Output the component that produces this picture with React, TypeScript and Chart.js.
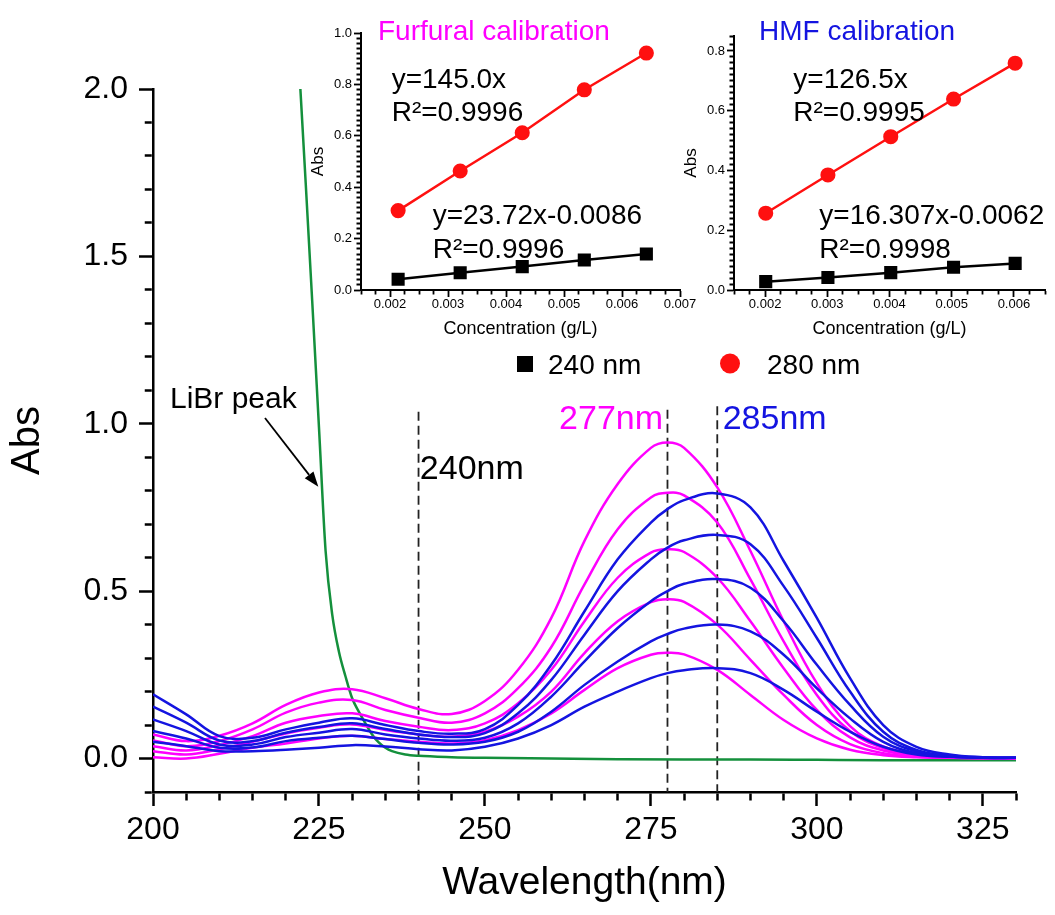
import React, { useEffect, useRef } from 'react';
import { Chart, registerables } from 'chart.js';

Chart.register(...registerables);

const FONT = "'Liberation Sans', Arial, Helvetica, sans-serif";
const MAGENTA = '#ff00ff';
const BLUE = '#1414e0';
const GREEN = '#14903c';
const RED = '#ff1010';

// ---------- main spectra (Abs vs wavelength, nm) ----------
const wavelengths = [200, 205, 210, 215, 220, 225, 230, 235, 240, 245, 250, 255, 260, 265, 270, 275, 277.5, 280, 285, 290, 295, 300, 305, 310, 315, 320, 325, 330];

const furfural1 = [0.072, 0.052, 0.068, 0.105, 0.160, 0.197, 0.207, 0.180, 0.148, 0.133, 0.172, 0.265, 0.42, 0.65, 0.82, 0.928, 0.944, 0.928, 0.81, 0.62, 0.41, 0.225, 0.097, 0.036, 0.013, 0.005, 0.002, 0.001];
const furfural2 = [0.054, 0.037, 0.052, 0.087, 0.137, 0.167, 0.175, 0.145, 0.122, 0.107, 0.135, 0.21, 0.333, 0.52, 0.685, 0.78, 0.794, 0.786, 0.705, 0.535, 0.35, 0.19, 0.082, 0.031, 0.011, 0.004, 0.002, 0.001];
const furfural3 = [0.037, 0.024, 0.040, 0.067, 0.107, 0.127, 0.135, 0.112, 0.095, 0.085, 0.105, 0.165, 0.265, 0.41, 0.54, 0.615, 0.625, 0.617, 0.54, 0.41, 0.27, 0.145, 0.063, 0.024, 0.009, 0.004, 0.002, 0.001];
const furfural4 = [0.022, 0.012, 0.028, 0.050, 0.075, 0.092, 0.102, 0.085, 0.072, 0.065, 0.080, 0.125, 0.20, 0.315, 0.41, 0.467, 0.476, 0.468, 0.40, 0.295, 0.19, 0.10, 0.043, 0.016, 0.006, 0.003, 0.001, 0.001];
const furfural5 = [0.004, 0.000, 0.014, 0.032, 0.045, 0.060, 0.068, 0.058, 0.050, 0.045, 0.055, 0.085, 0.135, 0.205, 0.27, 0.31, 0.316, 0.311, 0.265, 0.19, 0.115, 0.06, 0.026, 0.010, 0.004, 0.002, 0.001, 0.001];

const hmf1 = [0.192, 0.132, 0.067, 0.062, 0.087, 0.107, 0.120, 0.100, 0.082, 0.074, 0.088, 0.16, 0.28, 0.44, 0.595, 0.705, 0.745, 0.772, 0.792, 0.75, 0.59, 0.42, 0.24, 0.10, 0.035, 0.012, 0.004, 0.002];
const hmf2 = [0.155, 0.107, 0.054, 0.052, 0.077, 0.094, 0.105, 0.088, 0.072, 0.064, 0.076, 0.135, 0.235, 0.37, 0.50, 0.595, 0.63, 0.652, 0.668, 0.64, 0.515, 0.36, 0.20, 0.08, 0.026, 0.009, 0.003, 0.002];
const hmf3 = [0.117, 0.082, 0.042, 0.042, 0.064, 0.077, 0.088, 0.072, 0.060, 0.053, 0.062, 0.105, 0.185, 0.29, 0.39, 0.47, 0.50, 0.522, 0.536, 0.51, 0.41, 0.28, 0.16, 0.065, 0.021, 0.007, 0.003, 0.002];
const hmf4 = [0.082, 0.060, 0.032, 0.033, 0.052, 0.062, 0.068, 0.058, 0.047, 0.042, 0.050, 0.080, 0.14, 0.22, 0.29, 0.35, 0.372, 0.388, 0.40, 0.38, 0.31, 0.21, 0.12, 0.05, 0.016, 0.006, 0.002, 0.002];
const hmf5 = [0.050, 0.037, 0.022, 0.022, 0.026, 0.032, 0.040, 0.036, 0.028, 0.024, 0.035, 0.060, 0.10, 0.155, 0.20, 0.24, 0.255, 0.264, 0.27, 0.255, 0.205, 0.14, 0.08, 0.035, 0.012, 0.005, 0.002, 0.002];

const librWavelengths = [222.2, 223, 224, 225, 226, 227, 228, 229, 230, 231, 232, 233, 234, 235, 236, 238, 240, 245, 250, 260, 270, 280, 290, 300, 310, 320, 330];
const librAbs = [2.0, 1.72, 1.36, 0.99, 0.62, 0.43, 0.32, 0.245, 0.18, 0.14, 0.105, 0.072, 0.048, 0.032, 0.022, 0.012, 0.008, 0.004, 0.002, 0.0, -0.002, -0.003, -0.003, -0.004, -0.005, -0.005, -0.005];

const markerWavelengths = [240, 277.5, 285];
const markerTopAbs = [1.036, 1.042, 1.052];

// ---------- calibration insets ----------
const furfuralConc = [0.00214, 0.00321, 0.00428, 0.00535, 0.00642];
const furfural240nm = [0.042, 0.067, 0.091, 0.117, 0.140];
const furfural280nm = [0.309, 0.463, 0.612, 0.779, 0.922];

const hmfConc = [0.00201, 0.00301, 0.00402, 0.00503, 0.00602];
const hmf240nm = [0.028, 0.042, 0.058, 0.076, 0.089];
const hmf280nm = [0.257, 0.385, 0.513, 0.639, 0.759];

const isMult = (v: number, m: number) => Math.abs(v / m - Math.round(v / m)) < 1e-6;
const pts = (xs: number[], ys: number[]) => xs.map((x, i) => ({ x, y: ys[i] }));

type TextItem = { text: string; x: number; y: number; size: number; color: string; align?: CanvasTextAlign };

function drawText(ctx: CanvasRenderingContext2D, t: TextItem, x: number, y: number) {
  ctx.save();
  ctx.font = `${t.size}px ${FONT}`;
  ctx.fillStyle = t.color;
  ctx.textAlign = t.align || 'left';
  ctx.textBaseline = 'alphabetic';
  ctx.fillText(t.text, x, y);
  ctx.restore();
}

// annotations of the main plot, in data coordinates (wavelength, Abs)
const mainAnnotations: TextItem[] = [
  { text: '240nm', x: 240.2, y: 0.835, size: 34, color: '#000', align: 'left' },
  { text: '277nm', x: 276.83, y: 0.984, size: 34, color: MAGENTA, align: 'right' },
  { text: '285nm', x: 285.82, y: 0.984, size: 34, color: BLUE, align: 'left' },
  { text: 'LiBr peak', x: 202.56, y: 1.047, size: 30, color: '#000', align: 'left' },
];
const arrowFrom = { x: 216.87, y: 1.017 };
const arrowTo = { x: 224.9, y: 0.812 };

// legend texts (page pixels)
const legendTexts: TextItem[] = [
  { text: '240 nm', x: 548, y: 374, size: 28, color: '#000' },
  { text: '280 nm', x: 767, y: 374, size: 28, color: '#000' },
];

const furfuralTexts: TextItem[] = [
  { text: 'Furfural calibration', x: 378, y: 39.5, size: 28, color: MAGENTA },
  { text: 'y=145.0x', x: 391.7, y: 87.5, size: 28, color: '#000' },
  { text: 'R²=0.9996', x: 391.7, y: 121, size: 28, color: '#000' },
  { text: 'y=23.72x-0.0086', x: 432.7, y: 224, size: 28, color: '#000' },
  { text: 'R²=0.9996', x: 432.7, y: 258, size: 28, color: '#000' },
];
const hmfTexts: TextItem[] = [
  { text: 'HMF calibration', x: 759, y: 39.5, size: 28, color: BLUE },
  { text: 'y=126.5x', x: 793.3, y: 87.5, size: 28, color: '#000' },
  { text: 'R²=0.9995', x: 793.3, y: 121, size: 28, color: '#000' },
  { text: 'y=16.307x-0.0062', x: 819.3, y: 224, size: 28, color: '#000' },
  { text: 'R²=0.9998', x: 819.3, y: 258, size: 28, color: '#000' },
];

const mainPlugin = {
  id: 'mainAnnotations',
  afterDraw(chart: any) {
    const ctx: CanvasRenderingContext2D = chart.ctx;
    const xs = chart.scales.x;
    const ys = chart.scales.y;
    mainAnnotations.forEach((t) => drawText(ctx, t, xs.getPixelForValue(t.x), ys.getPixelForValue(t.y)));
    // arrow
    const x1 = xs.getPixelForValue(arrowFrom.x), y1 = ys.getPixelForValue(arrowFrom.y);
    const x2 = xs.getPixelForValue(arrowTo.x), y2 = ys.getPixelForValue(arrowTo.y);
    const ang = Math.atan2(y2 - y1, x2 - x1);
    const head = 15, hw = 5.5;
    const bx = x2 - head * Math.cos(ang), by = y2 - head * Math.sin(ang);
    ctx.save();
    ctx.strokeStyle = '#000';
    ctx.fillStyle = '#000';
    ctx.lineWidth = 1.8;
    ctx.beginPath();
    ctx.moveTo(x1, y1);
    ctx.lineTo(bx, by);
    ctx.stroke();
    ctx.beginPath();
    ctx.moveTo(x2, y2);
    ctx.lineTo(bx + hw * Math.sin(ang), by - hw * Math.cos(ang));
    ctx.lineTo(bx - hw * Math.sin(ang), by + hw * Math.cos(ang));
    ctx.closePath();
    ctx.fill();
    // legend symbols
    ctx.fillStyle = '#000';
    ctx.fillRect(517, 356, 16, 16);
    ctx.fillStyle = RED;
    ctx.beginPath();
    ctx.arc(730, 363.5, 10, 0, Math.PI * 2);
    ctx.fill();
    ctx.restore();
    legendTexts.forEach((t) => drawText(ctx, t, t.x, t.y));
  },
};

function makeTextPlugin(items: TextItem[], offsetX: number, offsetY: number) {
  return {
    id: 'pageTexts',
    afterDraw(chart: any) {
      items.forEach((t) => drawText(chart.ctx, t, t.x - offsetX, t.y - offsetY));
    },
  };
}

function mainConfig(): any {
  const spectra = [
    { d: hmf1, c: BLUE }, { d: hmf2, c: BLUE }, { d: hmf3, c: BLUE }, { d: hmf4, c: BLUE }, { d: hmf5, c: BLUE },
    { d: furfural1, c: MAGENTA }, { d: furfural2, c: MAGENTA }, { d: furfural3, c: MAGENTA }, { d: furfural4, c: MAGENTA }, { d: furfural5, c: MAGENTA },
  ];
  const datasets: any[] = spectra.map((s) => ({
    data: pts(wavelengths, s.d),
    borderColor: s.c,
    borderWidth: 2.5,
    pointRadius: 0,
    fill: false,
    tension: 0.4,
  }));
  datasets.push({
    data: pts(librWavelengths, librAbs),
    borderColor: GREEN,
    borderWidth: 2.5,
    pointRadius: 0,
    fill: false,
    cubicInterpolationMode: 'monotone',
  });
  markerWavelengths.forEach((w, i) => {
    datasets.push({
      data: [{ x: w, y: markerTopAbs[i] }, { x: w, y: -0.1 }],
      borderColor: '#222',
      borderWidth: 1.8,
      borderDash: [9, 5],
      pointRadius: 0,
      fill: false,
    });
  });
  return {
    type: 'line',
    data: { datasets },
    plugins: [mainPlugin],
    options: {
      responsive: false,
      animation: false,
      devicePixelRatio: 1,
      layout: { padding: { left: 0, top: 89, right: 39, bottom: 0 } },
      plugins: { legend: { display: false }, tooltip: { enabled: false } },
      scales: {
        x: {
          type: 'linear',
          min: 200,
          max: 330,
          afterFit: (s: any) => { s.height = 123; },
          border: { display: true, color: '#000', width: 2.5 },
          grid: {
            drawOnChartArea: false,
            drawTicks: true,
            tickLength: 14,
            color: '#000',
            tickColor: '#000',
            tickWidth: 2.5,
            tickBorderDash: (c: any) => (isMult(c.tick.value, 25) ? [] : [7, 100]),
          },
          ticks: {
            stepSize: 5,
            autoSkip: false,
            maxRotation: 0,
            minRotation: 0,
            color: '#000',
            padding: 5,
            font: { family: FONT, size: 32 },
            callback: (v: number) => (isMult(v, 25) ? String(Math.round(v)) : ''),
          },
          title: {
            display: true,
            text: 'Wavelength(nm)',
            color: '#000',
            font: { family: FONT, size: 39 },
            padding: { top: 0, bottom: 8 },
          },
        },
        y: {
          type: 'linear',
          min: -0.1,
          max: 2.0,
          afterFit: (s: any) => { s.width = 153; },
          border: { display: true, color: '#000', width: 2.5 },
          grid: {
            drawOnChartArea: false,
            drawTicks: true,
            tickLength: 14,
            color: '#000',
            tickColor: '#000',
            tickWidth: 2.5,
            tickBorderDash: (c: any) => (isMult(c.tick.value, 0.5) ? [] : [0, 5.75, 7, 100]),
          },
          ticks: {
            stepSize: 0.1,
            autoSkip: false,
            color: '#000',
            padding: 11,
            font: { family: FONT, size: 32 },
            callback: (v: number) => (isMult(v, 0.5) ? v.toFixed(1) : ''),
          },
          title: {
            display: true,
            text: 'Abs',
            color: '#000',
            font: { family: FONT, size: 40 },
            padding: { top: 4, bottom: 0 },
          },
        },
      },
    },
  };
}

type InsetParams = {
  conc: number[];
  a240: number[];
  a280: number[];
  xMax: number;
  yMax: number;
  yWidth: number;
  padTop: number;
  padRight: number;
  absPad: number;
  texts: TextItem[];
  left: number;
};

function insetConfig(p: InsetParams): any {
  return {
    type: 'line',
    data: {
      datasets: [
        {
          label: '240 nm',
          data: pts(p.conc, p.a240),
          borderColor: '#000',
          backgroundColor: '#000',
          pointBackgroundColor: '#000',
          pointBorderColor: '#000',
          pointStyle: 'rect',
          pointRadius: 7.5,
          borderWidth: 2.5,
          tension: 0,
          fill: false,
          clip: false,
        },
        {
          label: '280 nm',
          data: pts(p.conc, p.a280),
          borderColor: RED,
          backgroundColor: RED,
          pointBackgroundColor: RED,
          pointBorderColor: RED,
          pointStyle: 'circle',
          pointRadius: 6.3,
          borderWidth: 2.5,
          tension: 0,
          fill: false,
          clip: false,
        },
      ],
    },
    plugins: [makeTextPlugin(p.texts, p.left, 0)],
    options: {
      responsive: false,
      animation: false,
      devicePixelRatio: 1,
      layout: { padding: { left: 0, top: p.padTop, right: p.padRight, bottom: 0 } },
      plugins: { legend: { display: false }, tooltip: { enabled: false } },
      scales: {
        x: {
          type: 'linear',
          min: 0.0015,
          max: p.xMax,
          afterFit: (s: any) => { s.height = 55; },
          border: { display: true, color: '#000', width: 2 },
          grid: {
            drawOnChartArea: false,
            drawTicks: true,
            tickLength: 7,
            color: '#000',
            tickColor: '#000',
            tickWidth: 1.8,
            tickBorderDash: (c: any) => (isMult(c.tick.value, 0.001) ? [] : [3.5, 100]),
          },
          ticks: {
            stepSize: 0.00025,
            autoSkip: false,
            maxRotation: 0,
            minRotation: 0,
            color: '#000',
            padding: 0,
            font: { family: FONT, size: 13 },
            callback: (v: number) => (isMult(v, 0.001) ? v.toFixed(3) : ''),
          },
          title: {
            display: true,
            text: 'Concentration (g/L)',
            color: '#000',
            font: { family: FONT, size: 18 },
            padding: { top: 0, bottom: 5.5 },
          },
        },
        y: {
          type: 'linear',
          min: 0,
          max: p.yMax,
          afterFit: (s: any) => { s.width = p.yWidth; },
          border: { display: true, color: '#000', width: 2 },
          grid: {
            drawOnChartArea: false,
            drawTicks: true,
            tickLength: 7,
            color: '#000',
            tickColor: '#000',
            tickWidth: 1.8,
            tickBorderDash: (c: any) => (isMult(c.tick.value, 0.2) ? [] : [0, 2.5, 3.5, 100]),
          },
          ticks: {
            stepSize: 0.02,
            autoSkip: false,
            color: '#000',
            padding: 2,
            font: { family: FONT, size: 13 },
            callback: (v: number) => (isMult(v, 0.2) ? v.toFixed(1) : ''),
          },
          title: {
            display: true,
            text: 'Abs',
            color: '#000',
            font: { family: FONT, size: 17 },
            padding: { top: p.absPad, bottom: 0 },
          },
        },
      },
    },
  };
}

const canvasStyle = (left: number, top: number, w: number, h: number): React.CSSProperties => ({
  position: 'absolute',
  left,
  top,
  width: w,
  height: h,
});

export default function App() {
  const mainRef = useRef<HTMLCanvasElement>(null);
  const furRef = useRef<HTMLCanvasElement>(null);
  const hmfRef = useRef<HTMLCanvasElement>(null);

  useEffect(() => {
    const charts: Chart[] = [];
    if (mainRef.current) charts.push(new Chart(mainRef.current, mainConfig()));
    if (furRef.current)
      charts.push(
        new Chart(
          furRef.current,
          insetConfig({
            conc: furfuralConc,
            a240: furfural240nm,
            a280: furfural280nm,
            xMax: 0.007,
            yMax: 1.0,
            yWidth: 71,
            padTop: 33,
            padRight: 22,
            absPad: 18,
            texts: furfuralTexts,
            left: 290,
          })
        )
      );
    if (hmfRef.current)
      charts.push(
        new Chart(
          hmfRef.current,
          insetConfig({
            conc: hmfConc,
            a240: hmf240nm,
            a280: hmf280nm,
            xMax: 0.0065,
            yMax: 0.85,
            yWidth: 69,
            padTop: 36,
            padRight: 1.4,
            absPad: 16.5,
            texts: hmfTexts,
            left: 665,
          })
        )
      );
    return () => charts.forEach((c) => c.destroy());
  }, []);

  return (
    <div style={{ position: 'absolute', left: 0, top: 0, width: 1055, height: 915, background: '#fff' }}>
      <canvas ref={mainRef} width={1055} height={915} style={canvasStyle(0, 0, 1055, 915)} />
      <canvas ref={furRef} width={412} height={345} style={canvasStyle(290, 0, 412, 345)} />
      <canvas ref={hmfRef} width={390} height={345} style={canvasStyle(665, 0, 390, 345)} />
    </div>
  );
}
